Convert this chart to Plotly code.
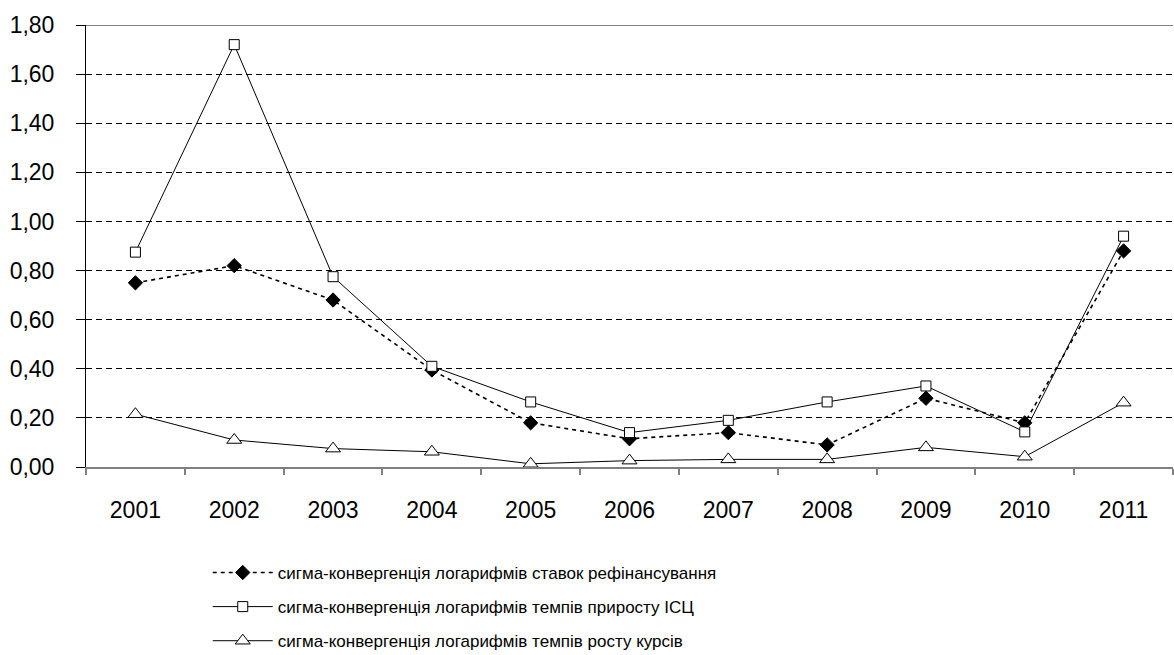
import plotly.graph_objects as go

years = ["2001", "2002", "2003", "2004", "2005", "2006", "2007", "2008", "2009", "2010", "2011"]
refin = [0.75, 0.82, 0.68, 0.395, 0.18, 0.115, 0.14, 0.09, 0.28, 0.18, 0.88]
cpi = [0.875, 1.72, 0.775, 0.41, 0.265, 0.14, 0.19, 0.265, 0.33, 0.143, 0.94]
fx = [0.215, 0.11, 0.075, 0.062, 0.013, 0.026, 0.031, 0.031, 0.08, 0.042, 0.262]

names = [
    "сигма-конвергенція логарифмів ставок рефінансування",
    "сигма-конвергенція логарифмів темпів приросту ІСЦ",
    "сигма-конвергенція логарифмів темпів росту курсів",
]
y_ticks = [0, 0.2, 0.4, 0.6, 0.8, 1.0, 1.2, 1.4, 1.6, 1.8]

FONT = "Liberation Sans Narrow, Arial Narrow, Liberation Sans, Arial, sans-serif"

fig = go.Figure()
fig.add_trace(go.Scatter(
    x=years, y=refin, name=names[0], mode="lines+markers", legendgroup="a",
    line=dict(color="black", width=1.6, dash="4px,4px"),
    marker=dict(symbol="diamond", size=11, color="black", line=dict(color="black", width=1)),
))
fig.add_trace(go.Scatter(
    x=years, y=cpi, name=names[1], mode="lines+markers", legendgroup="b",
    line=dict(color="black", width=1),
    marker=dict(symbol="square", size=10, color="white", line=dict(color="black", width=1)),
))
fig.add_trace(go.Scatter(
    x=years, y=fx, name=names[2], mode="lines+markers", legendgroup="c",
    line=dict(color="black", width=1),
    marker=dict(symbol="triangle-up", size=13, color="white", line=dict(color="black", width=1)),
))

fig.add_shape(type="line", xref="paper", x0=0, x1=1, yref="y", y0=1.8, y1=1.8,
              line=dict(color="black", width=1), layer="above")

fig.update_layout(
    width=1174, height=655,
    margin=dict(l=86, r=1, t=25, b=188, autoexpand=False),
    paper_bgcolor="white", plot_bgcolor="white",
    font=dict(family=FONT, size=23, color="black"),
    separators=", ",
    showlegend=True,
    legend=dict(
        x=0.112, xanchor="left", y=-0.199, yanchor="top",
        font=dict(family=FONT, size=17, color="black"),
        bgcolor="rgba(0,0,0,0)", traceorder="grouped", tracegroupgap=9, itemwidth=60,
    ),
    xaxis=dict(
        type="category", range=[-0.5, 10.5],
        showline=True, linecolor="#808080", linewidth=2,
        ticks="outside", tickson="boundaries", ticklen=6, tickcolor="#808080", tickwidth=2,
        showgrid=False, ticklabelstandoff=21,
        tickfont=dict(family=FONT, size=23, color="black"),
    ),
    yaxis=dict(
        range=[0, 1.8], tickvals=y_ticks, tickformat=".2f",
        showline=True, linecolor="black", linewidth=1,
        ticks="outside", ticklen=9, tickcolor="black",
        showgrid=True, gridcolor="black", gridwidth=1, griddash="6px,4px",
        zeroline=False, ticklabelstandoff=17,
        tickfont=dict(family=FONT, size=23, color="black"),
    ),
)

fig.write_html(
    "out.html",
    config={"displayModeBar": False},
    post_script="document.body.style.margin='0';document.body.style.overflow='hidden';",
)
